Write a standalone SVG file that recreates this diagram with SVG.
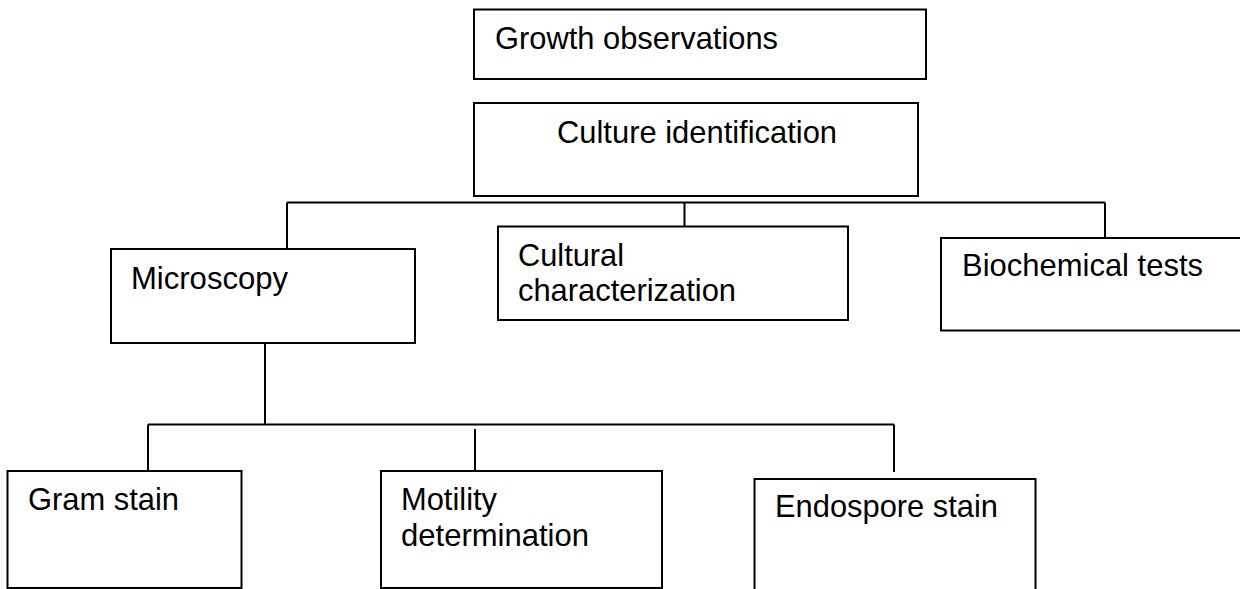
<svg xmlns="http://www.w3.org/2000/svg" width="1240" height="589" viewBox="0 0 1240 589">
<style>
.box{fill:#fff;stroke:#000;stroke-width:2}
.ln{stroke:#000;stroke-width:2;fill:none}
text{font-family:"Liberation Sans",Arial,sans-serif;font-size:32px;fill:#000}
</style>
<rect width="1240" height="589" fill="#fff"/>
<g id="connectors">
<path class="ln" d="M287,202.5 H1105 M287,202.5 V249 M684.5,202.5 V226 M1105,202.5 V243"/>
<path class="ln" d="M265,332 V424.5 M148,424.5 H894 M148,424.5 V471 M475,429 V477 M894,424.5 V472"/>
</g>
<g id="growth"><rect class="box" x="474" y="9.5" width="452" height="69.5"/><text x="495" y="48.5" textLength="283" lengthAdjust="spacingAndGlyphs">Growth observations</text></g>
<g id="culture"><rect class="box" x="474" y="103" width="444" height="93"/><text x="557" y="143" textLength="280" lengthAdjust="spacingAndGlyphs">Culture identification</text></g>
<g id="microscopy"><rect class="box" x="111" y="249" width="304" height="94"/><text x="131" y="289" textLength="157" lengthAdjust="spacingAndGlyphs">Microscopy</text></g>
<g id="cultural"><rect class="box" x="498" y="226.5" width="350" height="93.5"/><text x="518" y="266" textLength="106" lengthAdjust="spacingAndGlyphs">Cultural</text><text x="518" y="301" textLength="218" lengthAdjust="spacingAndGlyphs">characterization</text></g>
<g id="biochemical"><rect class="box" x="941" y="238" width="310" height="92.5"/><text x="962" y="276" textLength="241" lengthAdjust="spacingAndGlyphs">Biochemical tests</text></g>
<g id="gram"><rect class="box" x="7.5" y="471" width="234" height="117"/><text x="28" y="510" textLength="151" lengthAdjust="spacingAndGlyphs">Gram stain</text></g>
<g id="motility"><rect class="box" x="381" y="471" width="281" height="117"/><text x="401" y="510" textLength="96" lengthAdjust="spacingAndGlyphs">Motility</text><text x="401" y="545.5" textLength="188" lengthAdjust="spacingAndGlyphs">determination</text></g>
<g id="endospore"><rect class="box" x="754.5" y="479" width="281" height="120"/><text x="775" y="517" textLength="223" lengthAdjust="spacingAndGlyphs">Endospore stain</text></g>
</svg>
